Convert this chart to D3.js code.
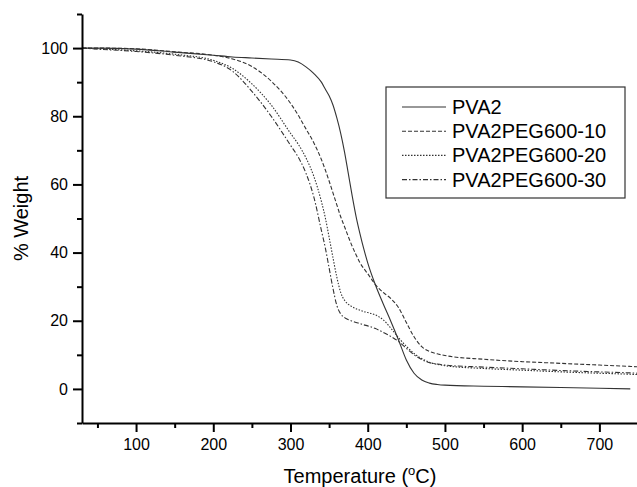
<!DOCTYPE html>
<html>
<head>
<meta charset="utf-8">
<script src="https://cdn.jsdelivr.net/npm/d3@7"></script>
<style>
  html, body { margin: 0; padding: 0; background: #fff; }
  svg { display: block; font-family: "Liberation Sans", Arial, sans-serif; }
  .axis path, .axis line { stroke: #000; stroke-width: 2; }
  .axis text { font-size: 16px; fill: #000; font-family: "Liberation Sans", Arial, sans-serif; }
</style>
</head>
<body>
<div class="js-d3"></div>
<script>
const temps = [30, 50, 100, 150, 200, 225, 250, 275, 300, 310, 320, 330, 340, 345, 350, 355, 360, 365, 370, 375,
  380, 385, 390, 395, 400, 410, 420, 430, 440, 450, 460, 470, 480, 490, 500, 550, 600, 650, 700, 740, 750];

const pva2 = [100, 100, 99.7, 98.8, 97.9, 97.4, 97.1, 96.8, 96.5, 95.9, 94.5, 92.6, 90, 88, 86, 83.3, 79.5, 75, 69.5, 63,
  56.5, 50.5, 45.5, 41, 37, 30.5, 25, 19.8, 14.3, 8.5, 4.6, 2.6, 1.7, 1.3, 1.1, 0.8, 0.6, 0.4, 0.2, 0, null];

const peg10 = [100, 100, 99.8, 98.9, 97.9, 96.8, 94.6, 90.3, 83.8, 80.3, 76.3, 72.3, 67.3, 64.3, 61, 57.5, 54, 50.5, 47.6, 44.6,
  41.8, 39.3, 37, 35.3, 33.8, 30.6, 28.3, 26.5, 23.8, 19.5, 15.3, 12.4, 11, 10.3, 9.8, 8.7, 8.0, 7.5, 7.0, 6.6, 6.5];

const peg20 = [100, 99.8, 99.2, 98.2, 96.4, 94, 89.5, 83.3, 75, 71.8, 67.8, 62.5, 55, 50.3, 44.5, 38.5, 32.8, 28.3, 26, 24.8,
  24.1, 23.5, 23.1, 22.7, 22.4, 21.7, 20.3, 17.8, 15, 12.5, 10.4, 8.9, 7.8, 7.2, 6.8, 6.0, 5.5, 5.0, 4.6, 4.3, 4.2];

const peg30 = [100, 99.7, 99.0, 97.9, 96.0, 93.2, 87.3, 80, 71.5, 68, 63.3, 56.5, 46.5, 41.5, 35.5, 29.5, 24.5, 22, 20.9, 20.3,
  19.9, 19.5, 19.2, 18.8, 18.5, 17.7, 16.6, 15.4, 13.9, 11.9, 10, 8.6, 7.7, 7.3, 7.0, 6.4, 5.9, 5.4, 5.0, 4.7, 4.6];

const seriesNames = ["PVA2", "PVA2PEG600-10", "PVA2PEG600-20", "PVA2PEG600-30"];
const seriesValues = [pva2, peg10, peg20, peg30];
const dashes = [null, "4,2", "1.5,1.5", "5,2,1.5,2"];

const xMajor = [100, 200, 300, 400, 500, 600, 700];
const xMinor = [50, 150, 250, 350, 450, 550, 650];
const yMajor = [0, 20, 40, 60, 80, 100];
const yMinor = [-10, 10, 30, 50, 70, 90, 110];

const width = 637;
const height = 487;
const margin = { top: 14, right: -1, bottom: 64, left: 82 };
const w = width - margin.left - margin.right;
const h = height - margin.top - margin.bottom;

const svg = d3
  .select(".js-d3")
  .append("svg")
  .attr("width", width)
  .attr("height", height);

const g = svg.append("g").attr("transform", `translate(${margin.left}, ${margin.top})`);

const x = d3.scaleLinear().domain([30, 750]).range([0, w]);
const y = d3.scaleLinear().domain([-10, 110]).range([h, 0]);

// curves
const line = d3
  .line()
  .defined((d) => d[1] !== null)
  .x((d) => x(d[0]))
  .y((d) => y(d[1]))
  .curve(d3.curveMonotoneX);

seriesValues.forEach((vals, i) => {
  g.append("path")
    .datum(temps.map((t, j) => [t, vals[j]]))
    .attr("fill", "none")
    .attr("stroke", "#333")
    .attr("stroke-width", 1.1)
    .attr("stroke-dasharray", dashes[i])
    .attr("d", line);
});

// axes
g.append("g")
  .attr("class", "axis")
  .attr("transform", `translate(0, ${h})`)
  .call(d3.axisBottom(x).tickValues(xMinor).tickSize(5).tickFormat(""))
  .call((a) => a.select(".domain").remove());

g.append("g")
  .attr("class", "axis")
  .attr("transform", `translate(0, ${h})`)
  .call(d3.axisBottom(x).tickValues(xMajor).tickSize(9).tickSizeOuter(0).tickPadding(7));

g.append("g")
  .attr("class", "axis")
  .call(d3.axisLeft(y).tickValues(yMinor).tickSize(5).tickFormat(""))
  .call((a) => a.select(".domain").remove());

g.append("g")
  .attr("class", "axis")
  .call(d3.axisLeft(y).tickValues(yMajor).tickSize(9).tickSizeOuter(0).tickPadding(5));

// axis titles
svg
  .append("text")
  .attr("x", margin.left + w / 2)
  .attr("y", 483)
  .attr("text-anchor", "middle")
  .style("font-size", "20px")
  .html("Temperature (<tspan dy='-8' font-size='13px'>o</tspan><tspan dy='8'>C)</tspan>");

svg
  .append("text")
  .attr("transform", `translate(28, ${margin.top + h / 2}) rotate(-90)`)
  .attr("text-anchor", "middle")
  .style("font-size", "20px")
  .text("% Weight");

// legend
const legend = svg.append("g").attr("transform", "translate(386, 87)");

legend
  .append("rect")
  .attr("width", 239)
  .attr("height", 111)
  .attr("fill", "#fff")
  .attr("stroke", "#333")
  .attr("stroke-width", 1.2);

const item = legend
  .selectAll(".legend-item")
  .data(seriesNames)
  .enter()
  .append("g")
  .attr("class", "legend-item")
  .attr("transform", (d, i) => `translate(0, ${20 + i * 24.2})`);

item
  .append("line")
  .attr("x1", 16)
  .attr("x2", 60)
  .attr("stroke", "#333")
  .attr("stroke-width", 1.1)
  .attr("stroke-dasharray", (d, i) => dashes[i]);

item
  .append("text")
  .attr("x", 66)
  .attr("y", 7)
  .style("font-size", "20px")
  .text((d) => d);
</script>
</body>
</html>
